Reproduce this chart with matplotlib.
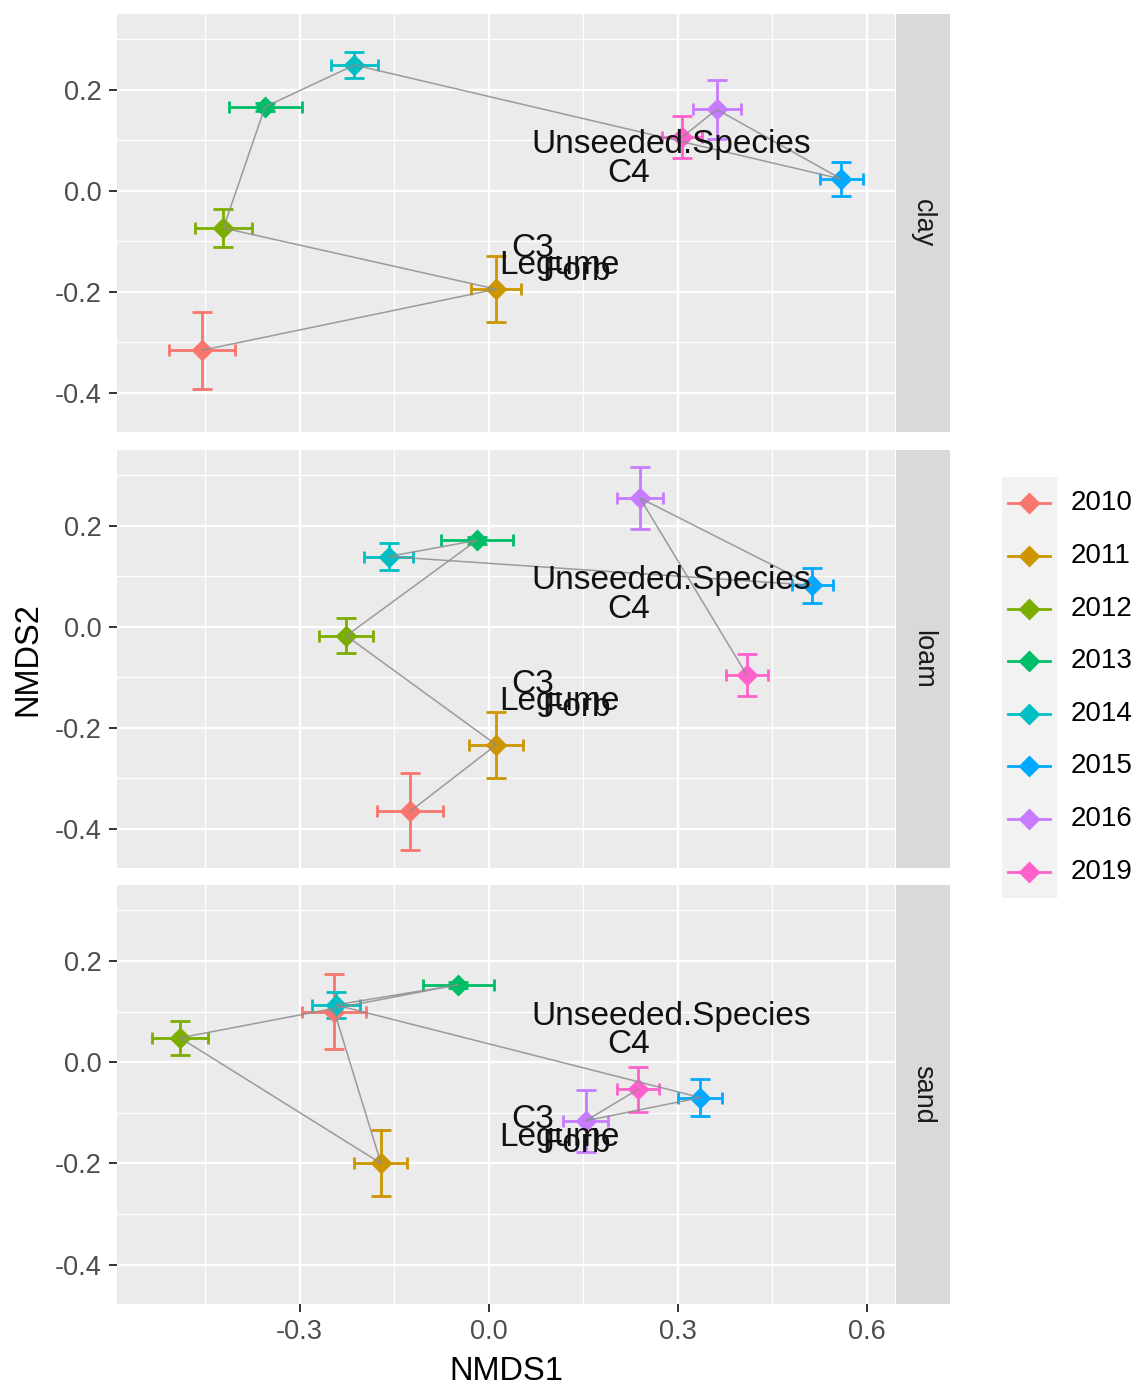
import matplotlib
matplotlib.use("Agg")
import matplotlib.pyplot as plt
from matplotlib.patches import Rectangle

plt.rcParams['font.family'] = ['Liberation Sans', 'DejaVu Sans']

# NMDS centroids (mean +/- se) per year, one facet per soil type
years = ['2010', '2011', '2012', '2013', '2014', '2015', '2016', '2019']
colors = ['#F8766D', '#CD9600', '#7CAE00', '#00BE67',
          '#00BFC4', '#00A9FF', '#C77CFF', '#FF61CC']

soils = ['clay', 'loam', 'sand']

clay_x = [-0.455, 0.012, -0.421, -0.355, -0.213, 0.560, 0.362, 0.307]
clay_y = [-0.316, -0.195, -0.074, 0.166, 0.249, 0.023, 0.161, 0.106]
clay_xerr = [0.052, 0.040, 0.045, 0.058, 0.038, 0.034, 0.038, 0.032]
clay_yerr = [0.076, 0.065, 0.037, 0.008, 0.025, 0.033, 0.058, 0.042]

loam_x = [-0.125, 0.012, -0.226, -0.019, -0.159, 0.514, 0.240, 0.410]
loam_y = [-0.366, -0.234, -0.018, 0.171, 0.139, 0.082, 0.255, -0.096]
loam_xerr = [0.052, 0.043, 0.043, 0.057, 0.039, 0.033, 0.037, 0.033]
loam_yerr = [0.077, 0.065, 0.035, 0.007, 0.026, 0.035, 0.061, 0.042]

sand_x = [-0.245, -0.171, -0.490, -0.048, -0.243, 0.336, 0.154, 0.237]
sand_y = [0.100, -0.200, 0.048, 0.153, 0.113, -0.070, -0.116, -0.054]
sand_xerr = [0.051, 0.042, 0.045, 0.057, 0.038, 0.035, 0.036, 0.033]
sand_yerr = [0.074, 0.065, 0.034, 0.006, 0.026, 0.036, 0.061, 0.044]

# species scores (same in every facet)
species = ['Unseeded.Species', 'C4', 'C3', 'Legume', 'Forb']
sp_x = [0.289, 0.222, 0.069, 0.112, 0.140]
sp_y = [0.091, 0.034, -0.114, -0.148, -0.161]

panels = {
    'clay': (clay_x, clay_y, clay_xerr, clay_yerr),
    'loam': (loam_x, loam_y, loam_xerr, loam_yerr),
    'sand': (sand_x, sand_y, sand_xerr, sand_yerr),
}

W, H = 1143, 1388
fig = plt.figure(figsize=(W / 100, H / 100), dpi=100)

def frac(x0, y0, x1, y1):
    # pixel box -> figure fraction
    return [x0 / W, 1 - y1 / H, (x1 - x0) / W, (y1 - y0) / H]

panel_boxes = [(14, 432), (450, 868), (885, 1304)]
pl, pr = 117, 895

xlim = (-0.590, 0.645)
ylim = (-0.478, 0.350)

for i, soil in enumerate(soils):
    top, bot = panel_boxes[i]
    ax = fig.add_axes(frac(pl, top, pr, bot))
    ax.set_facecolor('#EBEBEB')
    for s in ax.spines.values():
        s.set_visible(False)
    ax.set_xlim(*xlim)
    ax.set_ylim(*ylim)

    ax.set_xticks([-0.3, 0.0, 0.3, 0.6])
    ax.set_yticks([-0.4, -0.2, 0.0, 0.2])
    ax.set_xticks([-0.45, -0.15, 0.15, 0.45], minor=True)
    ax.set_yticks([-0.3, -0.1, 0.1, 0.3], minor=True)
    ax.grid(which='major', color='white', lw=1.7)
    ax.grid(which='minor', color='white', lw=0.9)
    ax.set_axisbelow(True)
    ax.tick_params(which='minor', length=0)
    ax.tick_params(which='major', length=6, width=1.4, color='#333333',
                   labelcolor='#4D4D4D', labelsize=19.5, pad=5)
    ax.set_yticklabels(['-0.4', '-0.2', '0.0', '0.2'])
    if i < 2:
        ax.tick_params(axis='x', which='major', length=0, labelbottom=False)
    else:
        ax.set_xticklabels(['-0.3', '0.0', '0.3', '0.6'])

    x, y, xe, ye = panels[soil]
    for j in range(len(years)):
        ax.errorbar(x[j], y[j], yerr=ye[j], fmt='none', ecolor=colors[j],
                    elinewidth=2.0, capsize=7.5, capthick=2.0, zorder=3)
        ax.errorbar(x[j], y[j], xerr=xe[j], fmt='none', ecolor=colors[j],
                    elinewidth=2.0, capsize=4.6, capthick=2.0, zorder=3)
        ax.plot(x[j], y[j], marker='D', ms=11.5, color=colors[j], mec='none',
                zorder=4)
    ax.plot(x, y, color='#8C8C8C', lw=1.1, alpha=0.85, zorder=5)

    for name, sx, sy in zip(species, sp_x, sp_y):
        ax.text(sx, sy, name, ha='center', va='center', fontsize=24,
                color='#111111', zorder=6)

    # facet strip on the right
    sax = fig.add_axes(frac(896, top, 950, bot))
    sax.set_facecolor('#D9D9D9')
    sax.set_xticks([])
    sax.set_yticks([])
    for s in sax.spines.values():
        s.set_visible(False)
    sax.text(0.5, 0.5, soil, rotation=-90, ha='center', va='center',
             fontsize=19.5, color='#1A1A1A', transform=sax.transAxes)

fig.text((pl + pr) / 2 / W, 1 - 1372 / H, 'NMDS1', ha='center', va='center',
         fontsize=23.5, color='black')
fig.text(28 / W, 1 - 659 / H, 'NMDS2', ha='center', va='center',
         rotation=90, fontsize=23.5, color='black')

# legend
lax = fig.add_axes(frac(1002, 477, 1143, 898))
lax.set_xlim(1002, 1143)
lax.set_ylim(898, 477)
lax.axis('off')
lax.add_patch(Rectangle((1002, 477), 54, 421, color='#F2F2F2', zorder=0))
key_h = 421 / len(years)
for j, yr in enumerate(years):
    cy = 477 + key_h * (j + 0.5)
    lax.plot([1008, 1050], [cy, cy], color=colors[j], lw=2.0)
    lax.plot(1029, cy, marker='D', ms=11.5, color=colors[j], mec='none')
    lax.text(1071, cy, yr, ha='left', va='center', fontsize=20, color='black')

fig.savefig('out.png', dpi=100)
